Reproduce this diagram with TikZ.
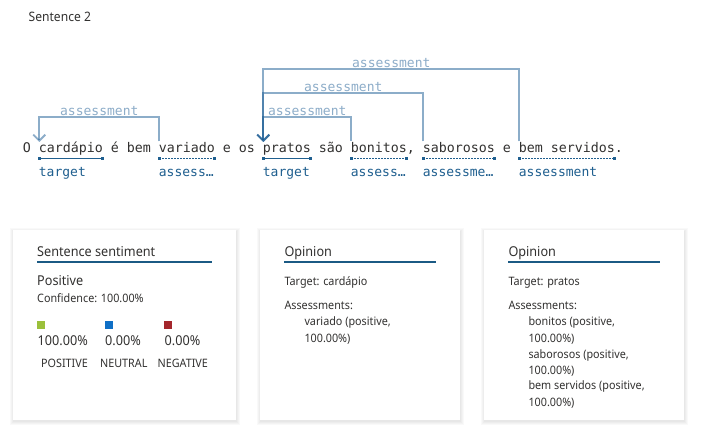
\documentclass[tikz,border=0pt]{standalone}
\usepackage{fontspec}
\setmainfont{Noto Sans}[FakeStretch=0.93]
\newfontfamily\monof{DejaVu Sans Mono}
\usetikzlibrary{arrows.meta,calc}
\definecolor{arcblue}{HTML}{1A5C94}
\definecolor{tagblue}{HTML}{1F5F8F}
\definecolor{txt}{HTML}{323130}
\definecolor{rule}{HTML}{1B5A84}
\definecolor{posg}{HTML}{9BC03B}
\definecolor{neub}{HTML}{0F6FC6}
\definecolor{negr}{HTML}{A4262C}
\tikzset{
  word/.style={font=\monof\fontsize{13.3}{16}\selectfont, text=txt, inner sep=0pt, anchor=base west},
  tag/.style={font=\monof\fontsize{13}{16}\selectfont, text=tagblue, inner sep=0pt, anchor=base west},
  arcline/.style={draw=arcblue, draw opacity=0.5, line width=1.9pt},
  arctip/.style={arcline, -{Straight Barb[length=6pt,width=12pt,line width=1.9pt]}},
  arclabel/.style={font=\monof\fontsize{13}{16}\selectfont, text=arcblue!50, inner sep=0pt, anchor=base},
  solidspan/.style={draw=tagblue, line width=1.4pt},
  dotspan/.style={draw=tagblue, line width=1.4pt, dash pattern=on 1.4pt off 1.6pt},
  shade1/.style={fill=black, fill opacity=0.025, draw=none},
  card/.style={fill=white, draw=none},
  title/.style={font=\fontsize{13.6}{16}\selectfont, text=txt, inner sep=0pt, anchor=base west},
  small/.style={font=\fontsize{11.6}{14}\selectfont, text=txt, inner sep=0pt, anchor=base west},
  mid/.style={font=\fontsize{13.6}{16}\selectfont, text=txt, inner sep=0pt, anchor=base west},
  caps/.style={font=\fontsize{11.6}{14}\selectfont, text=txt, inner sep=0pt, anchor=base},
}
\newcommand\spanmark[3]{%
  \draw[#3] ($(#1.base west)+(0.6,5.3)$) coordinate (#1-l) -- ++(#2,0) coordinate (#1-r);
  \fill[tagblue] ($(#1-l)+(-1.5,-1.5)$) rectangle ++(3,3);
  \fill[tagblue] ($(#1-r)+(-1.5,-1.5)$) rectangle ++(3,3);
}
\newcommand\cardbox[4]{%
  \foreach \e in {1,2,3,4} {
    \path[shade1] (#1-\e+0.5,#2-\e+2) rectangle (#3+\e-0.5,#4+\e+0.8);
  }
  \path[card] (#1,#2) rectangle (#3,#4);
}
\begin{document}
\begin{tikzpicture}[x=1pt,y=-1pt]
\useasboundingbox[fill=white] (0,0) rectangle (701,435);

\node[font=\fontsize{13}{16}\selectfont, text=txt, inner sep=0pt, anchor=base west] (head) at (28.5,22) {Sentence 2};

% sentence words
\node[word] (w0) at (22.7,153) {O};
\node[word] (cardapio) at (38.7,153) {cardápio};
\node[word] (w2) at (110.7,153) {é};
\node[word] (w3) at (126.7,153) {bem};
\node[word] (variado) at (158.7,153) {variado};
\node[word] (w5) at (222.7,153) {e};
\node[word] (w6) at (238.7,153) {os};
\node[word] (pratos) at (262.7,153) {pratos};
\node[word] (w8) at (318.7,153) {são};
\node[word] (bonitos) at (350.7,153) {bonitos,};
\node[word] (saborosos) at (422.7,153) {saborosos};
\node[word] (w11) at (502.7,153) {e};
\node[word] (bemserv) at (518.7,153) {bem servidos.};

% spans
\spanmark{cardapio}{63.5}{solidspan}
\spanmark{variado}{55.5}{dotspan}
\spanmark{pratos}{47.5}{solidspan}
\spanmark{bonitos}{55.5}{dotspan}
\spanmark{saborosos}{71.5}{dotspan}
\spanmark{bemserv}{95.5}{dotspan}

% tags
\node[tag] (t1) at (38.7,176.7) {target};
\node[tag] (t2) at (158.7,176.7) {assess…};
\node[tag] (t3) at (262.7,176.7) {target};
\node[tag] (t4) at (350.7,176.7) {assess…};
\node[tag] (t5) at (422.7,176.7) {assessme…};
\node[tag] (t6) at (518.7,176.7) {assessment};

% arcs
\coordinate (a1s) at ($(variado.base west)+(0.6,-11.5)$);
\coordinate (a1t) at ($(cardapio.base west)+(0.6,-11)$);
\draw[arctip] (a1s) -- (a1s |- 0,116.7) -- (a1t |- 0,116.7) -- (a1t);
\node[arclabel] (l1) at ($(a1s |- 0,115.5)!0.5!(a1t |- 0,115.5)$) {assessment};

\coordinate (a2s) at ($(bonitos.base west)+(0.6,-11.5)$);
\coordinate (pt) at ($(pratos.base west)+(0.6,-11)$);
\draw[arctip] (a2s) -- (a2s |- 0,116.7) -- (pt |- 0,116.7) -- (pt);
\node[arclabel] (l2) at ($(a2s |- 0,115.5)!0.5!(pt |- 0,115.5)$) {assessment};

\coordinate (a3s) at ($(saborosos.base west)+(0.6,-11.5)$);
\draw[arctip] (a3s) -- (a3s |- 0,92.7) -- (pt |- 0,92.7) -- (pt);
\node[arclabel] (l3) at ($(a3s |- 0,91.5)!0.5!(pt |- 0,91.5)$) {assessment};

\coordinate (a4s) at ($(bemserv.base west)+(0.6,-11.5)$);
\draw[arctip] (a4s) -- (a4s |- 0,69) -- (pt |- 0,69) -- (pt);
\node[arclabel] (l4) at ($(a4s |- 0,67.8)!0.5!(pt |- 0,67.8)$) {assessment};

% cards
\cardbox{13}{230.5}{236}{420}
\cardbox{260}{230.5}{460}{420}
\cardbox{484.3}{230.5}{684}{420}

% card 1
\node[title] (c1t) at (37,257) {Sentence sentiment};
\draw[rule, line width=1.6pt] (37,262.3) -- (212,262.3);
\node[mid] (pos) at (37,285.5) {Positive};
\node[small] (conf) at (37,302.5) {Confidence: 100.00\%};
\fill[posg] (37,321.5) rectangle ++(8,8);
\fill[neub] (105,321.5) rectangle ++(8,8);
\fill[negr] (164,321.5) rectangle ++(8,8);
\node[mid] (p1) at (37.5,345) {100.00\%};
\node[mid] (p2) at (105,345) {0.00\%};
\node[mid] (p3) at (164.5,345) {0.00\%};
\node[caps] (k1) at (64.5,367) {POSITIVE};
\node[caps] (k2) at (123.8,367) {NEUTRAL};
\node[caps] (k3) at (182.8,367) {NEGATIVE};

% card 2
\node[title] (c2t) at (284.3,257) {Opinion};
\draw[rule, line width=1.6pt] (284.3,262.3) -- (435.7,262.3);
\node[small] (c2a) at (284.3,285.3) {Target: cardápio};
\node[small] (c2b) at (284.3,309.3) {Assessments:};
\node[small] (c2c) at (304.3,325.6) {variado (positive,};
\node[small] (c2d) at (304.3,342) {100.00\%)};

% card 3
\node[title] (c3t) at (508.3,257) {Opinion};
\draw[rule, line width=1.6pt] (508.3,262.3) -- (659.7,262.3);
\node[small] (c3a) at (508.3,285.3) {Target: pratos};
\node[small] (c3b) at (508.3,309.3) {Assessments:};
\node[small] (c3c) at (528.3,325.6) {bonitos (positive,};
\node[small] (c3d) at (528.3,342) {100.00\%)};
\node[small] (c3e) at (528.3,358) {saborosos (positive,};
\node[small] (c3f) at (528.3,374.3) {100.00\%)};
\node[small] (c3g) at (528.3,389.6) {bem servidos (positive,};
\node[small] (c3h) at (528.3,406) {100.00\%)};
\end{tikzpicture}
\end{document}
